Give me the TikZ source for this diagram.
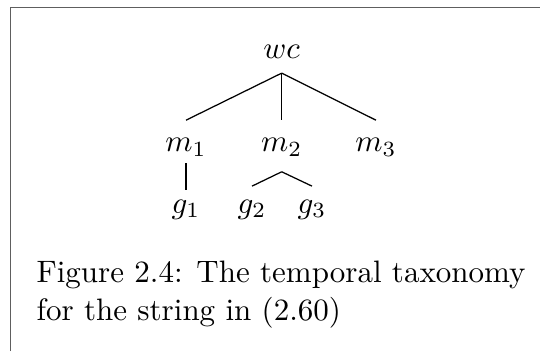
\documentclass[tikz,border=0pt]{standalone}
\usepackage{tikz}
\definecolor{boxgray}{HTML}{5E5E5E}

\begin{document}
\begin{tikzpicture}[
  x=0.3226pt, y=-0.3226pt,
  every node/.style={font=\normalsize},
  tn/.style={inner xsep=0pt, inner ysep=3.5pt, text height=1.5ex, text depth=.25ex, anchor=base},
  tnl/.style={tn, inner ysep=2.1pt},
  br/.style={line width=0.4pt, draw=black},
  boxline/.style={line width=0.55pt, draw=boxgray},
  captxt/.style={align=left, inner sep=0pt, anchor=north west, font=\fontsize{10}{12.3}\selectfont},
]
\useasboundingbox (0,0) rectangle (540,351);
\draw[boxline] (10.5,351) |- (540,7.5);

\node[tn] (wc) at (281.7,58.3) {$wc$};
\node[tn] (m1) at (186,151.7) {$m_1$};
\node[tn] (m2) at (281.7,151.7) {$m_2$};
\node[tn] (m3) at (376,151.7) {$m_3$};
\node[tnl] (g1) at (186,213.3) {$g_1$};
\node[tnl] (g2) at (252,213.3) {$g_2$};
\node[tnl] (g3) at (312,213.3) {$g_3$};
\node[captxt] (caption) at (36,260.2) {Figure 2.4: The temporal taxonomy\\for the string in (2.60)};

\draw[br] (wc.south) -- (m1.north);
\draw[br] (wc.south) -- (m2.north);
\draw[br] (wc.south) -- (m3.north);
\draw[br] ([yshift=1pt]m1.south) -- ([yshift=-1.1pt]g1.north);
\draw[br] ([yshift=-1.7pt]m2.south) -- (g2.north);
\draw[br] ([yshift=-1.7pt]m2.south) -- (g3.north);
\end{tikzpicture}
\end{document}
